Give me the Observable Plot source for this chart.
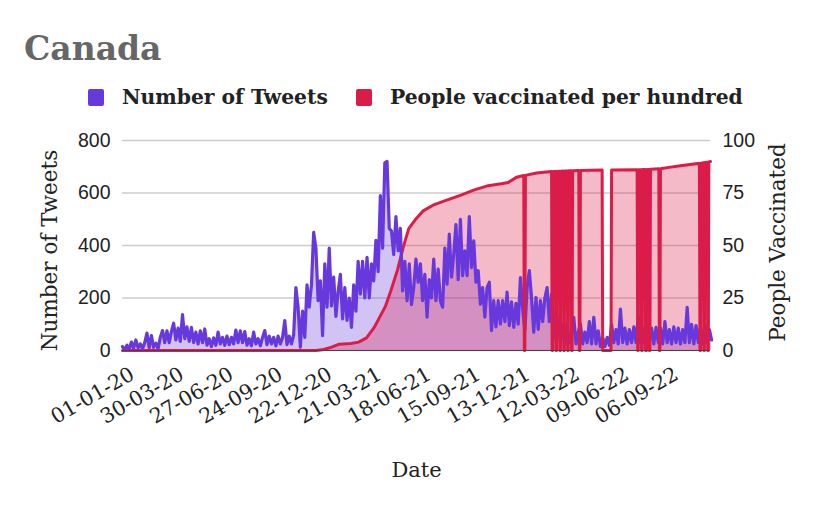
<!DOCTYPE html>
<html><head><meta charset="utf-8">
<script src="https://cdn.jsdelivr.net/npm/d3@7"></script>
<script src="https://cdn.jsdelivr.net/npm/@observablehq/plot@0.6"></script>
<style>
body{margin:0;background:#fff;}
#wrap{width:832px;}
#head{position:relative;height:118px;font-family:"DejaVu Serif",serif;}
#title{position:absolute;left:24px;top:32px;font-size:33px;line-height:1;font-weight:bold;color:#666;}
.leg{position:absolute;top:86px;height:22px;display:flex;align-items:center;font-size:20.3px;font-weight:bold;color:#222;line-height:1;}
.sw{display:inline-block;width:16px;height:17px;border-radius:2px;margin-right:18px;}
</style></head><body>
<div id="wrap">
<div id="head">
<div id="title">Canada</div>
<div class="leg" style="left:88px"><span class="sw" style="background:#6739dc"></span>Number of Tweets</div>
<div class="leg" style="left:356px"><span class="sw" style="background:#dc1c48"></span>People vaccinated per hundred</div>
</div>
<div id="chart"></div>
</div>
<script>
// Number of tweets, sampled every 4 days from 2020-01-01
const tweetStart = "2020-01-01";
const tweetStepDays = 4;
const tweets = [
15,3,20,5,32,8,40,10,25,6,
30,66,10,57,12,28,6,50,76,30,
75,30,72,104,40,85,35,137,45,90,
35,88,30,70,25,75,30,82,20,45,
15,48,20,70,25,50,20,55,22,50,
25,78,30,75,30,72,20,45,18,70,
25,45,18,50,76,22,55,25,50,18,
55,25,50,114,22,55,25,60,240,165,
13,150,50,250,165,250,450,390,190,265,
57,330,165,390,170,280,130,225,290,120,
240,115,200,88,250,150,340,215,340,200,
355,200,330,265,420,300,590,390,715,720,
465,455,365,510,380,465,227,340,190,330,
175,240,348,260,330,190,290,127,270,200,
348,190,310,190,165,390,253,443,280,367,
480,270,500,285,380,285,510,316,418,260,
304,177,240,127,240,260,76,190,90,190,
101,190,110,222,95,185,88,180,100,278,
160,76,240,304,200,70,202,80,190,110,
200,240,110,215,127,38,126,30,100,25,
100,30,63,126,25,70,100,25,70,30,
110,25,126,25,75,15,50,15,50,20,
100,30,80,25,158,30,85,25,80,30,
90,30,133,30,88,25,126,30,85,25,
88,30,85,25,110,30,80,25,90,30,
85,25,80,30,164,30,100,25,95,30,
90,25,100,30,80,40
];

// People vaccinated per hundred
const vaxDates = [
"2020-01-01","2020-12-14","2020-12-28","2021-01-10","2021-01-25","2021-02-15","2021-03-01","2021-03-15",
"2021-03-29","2021-04-08","2021-04-18","2021-04-28","2021-05-10","2021-05-20","2021-05-30","2021-06-10",
"2021-06-25","2021-07-15","2021-08-05","2021-09-01","2021-09-25","2021-10-20","2021-11-15","2021-11-25",
"2021-12-10","2021-12-23","2021-12-24","2021-12-25","2021-12-26","2022-01-15",
"2022-02-11","2022-02-12","2022-02-13","2022-02-14","2022-02-18","2022-02-19","2022-02-20","2022-02-21",
"2022-02-25","2022-02-26","2022-02-27","2022-02-28","2022-03-04","2022-03-05","2022-03-06","2022-03-07",
"2022-03-11","2022-03-12","2022-03-13","2022-03-14","2022-03-18","2022-03-19","2022-03-20","2022-03-21",
"2022-04-01","2022-04-02","2022-04-03","2022-04-04","2022-05-13","2022-05-14","2022-05-29","2022-05-30",
"2022-07-15","2022-07-16","2022-07-17","2022-07-18","2022-07-22","2022-07-23","2022-07-24","2022-07-25",
"2022-07-29","2022-07-30","2022-08-01","2022-08-02","2022-08-05","2022-08-06","2022-08-07","2022-08-08",
"2022-08-23","2022-08-24","2022-08-25","2022-08-26","2022-09-10","2022-10-01","2022-11-01",
"2022-11-04","2022-11-05","2022-11-06","2022-11-07","2022-11-11","2022-11-12","2022-11-13","2022-11-14",
"2022-11-18","2022-11-19","2022-11-20","2022-11-21","2022-11-24"
];
const vaxValues = [
0,0,0.5,1.5,3,3.3,4,6,
11,16,21,28.6,38.5,49,58,62,
66.5,69.5,71.5,74,76.5,78.5,79.5,80,
82.5,83.3,0,0,83.4,84.5,
85.2,0,0,85.2,85.3,0,0,85.3,
85.4,0,0,85.4,85.5,0,0,85.5,
85.5,0,0,85.6,85.6,0,0,85.6,
85.7,0,0,85.7,85.9,0,0,86,
86.1,0,0,86.1,86.1,0,0,86.2,
86.2,0,0,86.2,86.2,0,0,86.3,
86.5,0,0,86.5,87.2,88,89,
89.1,0,0,89.2,89.4,0,0,89.5,
89.6,0,0,89.8,90
];

const xTickDates = ["2020-01-01","2020-03-30","2020-06-27","2020-09-24","2020-12-22","2021-03-21",
"2021-06-18","2021-09-15","2021-12-13","2022-03-12","2022-06-09","2022-09-06"];
const leftTicks = [0,200,400,600,800];
const rightTicks = [0,25,50,75,100];
const xEnd = "2022-11-24";
const layerSplit = "2021-12-10"; // before: vaccination line under tweets line; after: over it

const purple = "#6739dc", red = "#dc1c48";
const vaxToLeft = 800 / 100;

const t0 = new Date(tweetStart);
const split = new Date(layerSplit);
const tweetData = tweets.map((v, i) => ({date: d3.utcDay.offset(t0, i * tweetStepDays), v}));
const vaxData = vaxDates.map((d, i) => ({date: new Date(d), v: vaxValues[i] * vaxToLeft}));
const xTicks = xTickDates.map(d => new Date(d));

const serif = "DejaVu Serif, serif";
const sans = "Liberation Sans, Arial, sans-serif";

const chart = Plot.plot({
  width: 832, height: 395,
  marginLeft: 122, marginRight: 122, marginTop: 22, marginBottom: 163,
  x: {type: "utc", domain: [t0, new Date(xEnd)], label: null, axis: null},
  y: {domain: [0, 800], label: null, axis: null},
  style: {background: "white", overflow: "visible", color: "#222"},
  marks: [
    Plot.gridY(leftTicks, {stroke: "#cccccc", strokeOpacity: 1, strokeWidth: 1.3}),
    Plot.areaY(tweetData, {x: "date", y: "v", fill: purple, fillOpacity: 0.3}),
    Plot.areaY(vaxData, {x: "date", y: "v", fill: red, fillOpacity: 0.3}),
    Plot.lineY(vaxData.filter(d => d.date <= split), {x: "date", y: "v", stroke: red, strokeWidth: 3}),
    Plot.lineY(tweetData, {x: "date", y: "v", stroke: purple, strokeWidth: 3.2}),
    Plot.lineY(vaxData.filter(d => d.date >= split), {x: "date", y: "v", stroke: red, strokeWidth: 3}),
    Plot.ruleY([0], {stroke: "#444", strokeWidth: 1.2}),
    Plot.axisY(leftTicks, {anchor: "left", tickSize: 0, tickPadding: 12, fontSize: 19.5, fontFamily: sans, label: null}),
    Plot.axisY(rightTicks.map(t => t * vaxToLeft), {anchor: "right", tickSize: 0, tickPadding: 12, fontSize: 19.5, fontFamily: sans, label: null, tickFormat: d => d / vaxToLeft}),
    Plot.axisX(xTicks, {anchor: "bottom", tickSize: 0, tickPadding: 22, dx: 10, tickRotate: -30, fontSize: 20.5, fontFamily: serif, label: null, tickFormat: d3.utcFormat("%d-%m-%y")}),
    Plot.text(["Number of Tweets"], {text: d => d, frameAnchor: "left", dx: -72, dy: 5, rotate: -90, fontSize: 21.5, fontFamily: serif, textAnchor: "middle", lineAnchor: "middle", fill: "#222"}),
    Plot.text(["People Vaccinated"], {text: d => d, frameAnchor: "right", dx: 68, dy: -3, rotate: -90, fontSize: 21.5, fontFamily: serif, textAnchor: "middle", lineAnchor: "middle", fill: "#222"}),
    Plot.text(["Date"], {text: d => d, frameAnchor: "bottom", dy: 120, fontSize: 21, fontFamily: serif, textAnchor: "middle", lineAnchor: "middle", fill: "#222"})
  ]
});
document.getElementById("chart").appendChild(chart);
</script>
</body></html>
